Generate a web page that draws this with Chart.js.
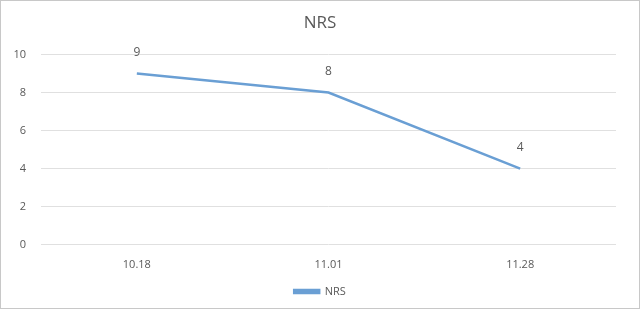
<!DOCTYPE html>
<html>
<head>
<meta charset="utf-8">
<script src="https://cdn.jsdelivr.net/npm/chart.js@4/dist/chart.umd.min.js"></script>
<style>
html,body{margin:0;padding:0;background:#fff;}
#wrap{position:relative;width:638px;height:307px;border:1px solid #c8c8c8;}
</style>
</head>
<body>
<div id="wrap"><canvas id="c"></canvas></div>
<script>
const categories = ["10.18", "11.01", "11.28"];
const nrsValues = [9, 8, 4];
const seriesName = "NRS";
const titleText = "NRS";

const labelPlugin = {
  id: 'valueLabels',
  afterDatasetsDraw(chart) {
    const ctx = chart.ctx;
    const meta = chart.getDatasetMeta(0);
    ctx.save();
    ctx.fillStyle = '#595959';
    ctx.font = '12px "Open Sans", sans-serif';
    ctx.textAlign = 'center';
    ctx.textBaseline = 'middle';
    meta.data.forEach((pt, i) => {
      ctx.fillText(String(nrsValues[i]), pt.x, pt.y - 21);
    });
    ctx.restore();
  }
};

new Chart(document.getElementById('c'), {
  type: 'line',
  data: {
    labels: categories,
    datasets: [{
      label: seriesName,
      data: nrsValues,
      borderColor: '#6a9fd4',
      backgroundColor: '#6a9fd4',
      borderWidth: 2.5,
      pointRadius: 0,
      tension: 0,
      yAxisID: 'y'
    }]
  },
  options: {
    responsive: true,
    maintainAspectRatio: false,
    animation: false,
    layout: { padding: { left: 12, right: 12, top: 4, bottom: 1 } },
    plugins: {
      title: {
        display: true,
        text: titleText,
        color: '#595959',
        font: { family: '"Open Sans", sans-serif', size: 17, weight: 'normal' },
        padding: { top: 8, bottom: 21 }
      },
      legend: {
        position: 'bottom',
        labels: {
          color: '#595959',
          font: { family: '"Open Sans", sans-serif', size: 11 },
          boxWidth: 25,
          boxHeight: 3,
          padding: 10
        }
      },
      tooltip: { enabled: false }
    },
    scales: {
      x: {
        offset: true,
        grid: { display: false, offset: true },
        border: { display: false },
        ticks: { color: '#595959', font: { family: '"Open Sans", sans-serif', size: 11 }, padding: 5 }
      },
      y: {
        min: 0,
        max: 10,
        ticks: { stepSize: 2, color: '#595959', font: { family: '"Open Sans", sans-serif', size: 11 }, padding: 15 },
        grid: { color: '#e0e0e0', drawTicks: false },
        border: { display: false },
        afterFit(s) { s.width = 28; }
      },
      yr: {
        type: 'linear',
        position: 'right',
        min: 0,
        max: 10,
        grid: { display: false },
        border: { display: false },
        ticks: { display: false },
        afterFit(s) { s.width = 11; }
      }
    }
  },
  plugins: [labelPlugin]
});
</script>
</body>
</html>
